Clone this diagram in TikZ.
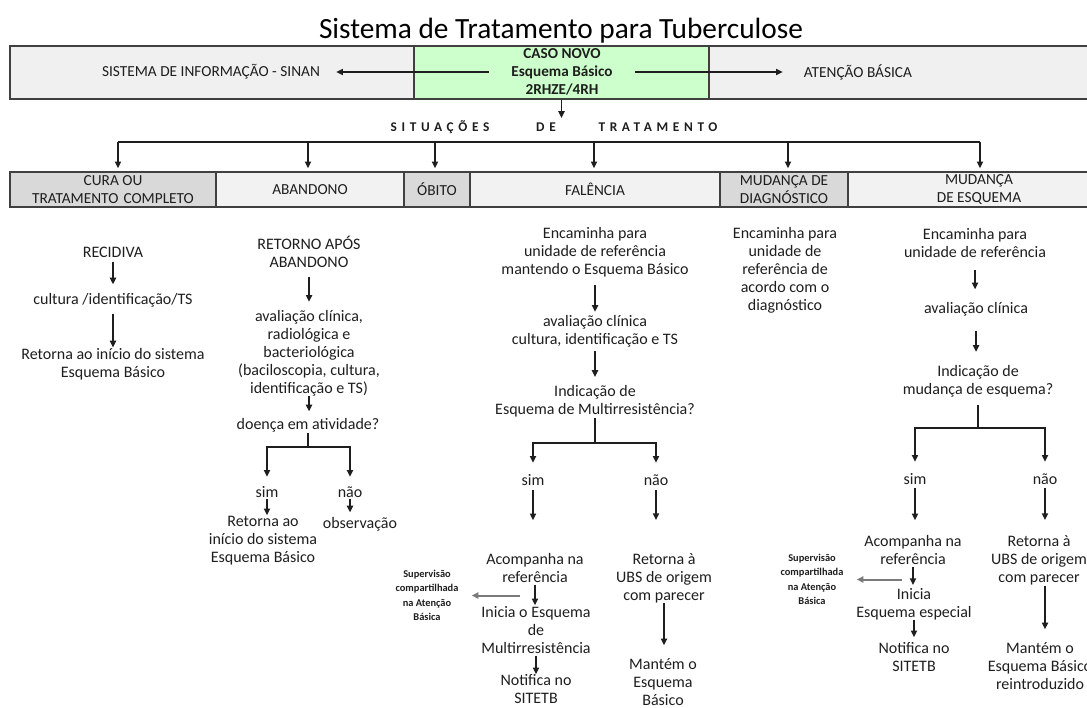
\documentclass[tikz,border=0pt]{standalone}
\usepackage{fontspec}
\setmainfont{Carlito}
\usetikzlibrary{arrows.meta,calc}

\definecolor{ink}{HTML}{1E1E1E}
\definecolor{edge}{HTML}{404040}
\definecolor{bandfill}{HTML}{F0F0F0}
\definecolor{cellA}{HTML}{D9D9D9}
\definecolor{cellB}{HTML}{F2F2F2}
\definecolor{novofill}{HTML}{CCFFCC}
\definecolor{supgray}{HTML}{7A7A7A}

\newcommand\fTitle{\fontsize{22}{26}\selectfont}
\newcommand\fBand{\fontsize{11.5}{13.5}\selectfont}
\newcommand\fNovo{\bfseries\fontsize{11.4}{13.5}\selectfont}
\newcommand\fSit{\bfseries\fontsize{10}{12}\selectfont\addfontfeatures{LetterSpace=35}}
\newcommand\fCell{\fontsize{11.5}{13}\selectfont}
\newcommand\fBody{\fontsize{12}{13.5}\selectfont}
\newcommand\fSup{\bfseries\fontsize{7.8}{10.7}\selectfont}
% line strut: one full line of 13.5pt, sitting a little low in its box
\newcommand\lnstrut{\rule[-1.45pt]{0pt}{13.5pt}}

\begin{document}
\begin{tikzpicture}[x=0.75pt,y=-0.75pt,
  ln/.style={draw=ink, line width=1.1pt},
  arr/.style={ln, -{Triangle[length=5pt,width=4.6pt]}},
  garr/.style={draw=supgray, line width=1.5pt, -{Triangle[length=5pt,width=4.6pt]}},
  ends/.style 2 args={shorten <=#1*0.75pt, shorten >=#2*0.75pt},
  txt/.style={align=center, inner sep=0pt, text=ink, font=\fBody,
    execute at begin node=\lnstrut, execute at end node=\lnstrut},
  sup/.style={align=center, inner sep=0pt, text=ink, font=\fSup},
  bandtext/.style={inner sep=0pt, text=ink, font=\fBand},
  sit/.style={inner sep=0pt, text=ink, font=\fSit},
  cell/.style={draw=edge, line width=1.1pt, inner sep=0pt, minimum height=26.25pt,
    align=center, text=ink, font=\fCell},
  cellgray/.style={cell, fill=cellA},
  celllight/.style={cell, fill=cellB}
]
\useasboundingbox (0,0) rectangle (1087,707);
\clip (0,0) rectangle (1087,707);

% title
\node[inner sep=0pt, text=black, font=\fTitle] (title) at (561,31) {Sistema de Tratamento para Tuberculose};

% top band with the new case in the middle
\node[draw=edge, line width=1.1pt, fill=bandfill, minimum width=817.5pt, minimum height=39.75pt, inner sep=0pt] (band) at (555,72.5) {};
\node[draw=edge, line width=1.1pt, fill=novofill, minimum width=221.25pt, minimum height=39.75pt, inner sep=0pt] (green) at (561.5,72.5) {};
\node[align=center, inner sep=0pt, text=ink, font=\fNovo, minimum width=109.5pt] (caso) at (562,72)
  {CASO NOVO\\Esquema Básico\\2RHZE/4RH};
\node[bandtext] (sinan) at (211,72) {SISTEMA DE INFORMAÇÃO - SINAN};
\node[bandtext] (aten) at (858,72) {ATENÇÃO BÁSICA};
\draw[arr, ends={0}{16}] (caso) -- (sinan);
\draw[arr, ends={0}{21}] (caso) -- (aten);

% treatment situations
\node[sit] (sit1) at (440,127) {SITUAÇÕES};
\node[sit] (sit2) at (546,127) {DE};
\node[sit] (sit3) at (658,127) {TRATAMENTO};
\draw[arr, ends={0}{4.5}] (green) -- (green |- sit2.north);

% situation cells
\node[cellgray]  (cura)  at (113,189.5) [minimum width=154.5pt] {CURA OU\\TRATAMENTO\,\,COMPLETO};
\node[celllight] (aband) at (310,189.5) [minimum width=141pt] {ABANDONO};
\node[cellgray]  (obito) at (437,189.5) [minimum width=49.5pt] {ÓBITO};
\node[celllight] (falen) at (595,189.5) [minimum width=187.5pt] {FALÊNCIA};
\node[cellgray]  (mdiag) at (784,189.5) [minimum width=96pt] {MUDANÇA DE\\DIAGNÓSTICO};
\node[celllight] (mesq)  at (979,189.5) [minimum width=196.5pt] {MUDANÇA\\DE ESQUEMA};

\coordinate (b1) at (118,142);
\coordinate (b2) at (308,142);
\coordinate (b3) at (435,142);
\coordinate (b4) at (594,142);
\coordinate (b5) at (788,142);
\coordinate (b6) at (980,142);
\draw[ln] (b1) -- (b6);
\draw[arr, ends={0}{3}] (b1) -- (b1 |- cura.north);
\draw[arr, ends={0}{3}] (b2) -- (b2 |- aband.north);
\draw[arr, ends={0}{3}] (b3) -- (b3 |- obito.north);
\draw[arr, ends={0}{3}] (b4) -- (b4 |- falen.north);
\draw[arr, ends={0}{3}] (b5) -- (b5 |- mdiag.north);
\draw[arr, ends={0}{3}] (b6) -- (b6 |- mesq.north);

% cure / complete treatment
\node[txt] (recid) at (113,250) {RECIDIVA};
\node[txt] (cult) at (113,298) {cultura /identificação/TS};
\node[txt] (ret1) at (113,364.5) {Retorna ao início do sistema\\Esquema Básico};
\draw[arr, ends={3}{4}] (recid) -- (recid |- cult.north);
\draw[arr, ends={6}{1}] (cult) -- (cult |- ret1.north);

% abandonment
\node[txt] (retab) at (309,253) {RETORNO APÓS\\ABANDONO};
\node[txt] (aval1) at (309,353) {avaliação clínica,\\radiológica e\\bacteriológica\\(baciloscopia, cultura,\\identificação e TS)};
\node[txt] (doenca) at (308,423) {doença em atividade?};
\draw[arr, ends={7}{8}] (retab) -- (retab |- aval1.north);
\draw[arr, ends={0}{2}] (aval1) -- (aval1 |- doenca.north);
\coordinate (f1) at (308,447);
\draw[ln] (doenca) -- (f1);
\node[txt] (sim1) at (267,490) {sim};
\node[txt] (nao1) at (350,490) {não};
\draw[arr, ends={0}{4}] (f1) -| (sim1);
\draw[arr, ends={0}{4}] (f1) -| (nao1);
\node[txt] (ret2) at (263,541) {Retorna ao\\início do sistema\\Esquema Básico};
\node[txt] (obs) at (360,522) {observação};
\draw[arr, ends={0}{1}] (sim1) -- (sim1 |- ret2.north);
\draw[arr, ends={0}{0}] (nao1) -- (nao1 |- obs.north);

% failure
\node[txt] (enc1) at (595,252.5) {Encaminha para\\unidade de referência\\mantendo o Esquema Básico};
\node[txt] (aval2) at (595,331.5) {avaliação clínica\\cultura, identificação e TS};
\node[txt] (ind1) at (595,401.5) {Indicação de\\Esquema de Multirresistência?};
\draw[arr, ends={7.5}{3.5}] (enc1) -- (enc1 |- aval2.north);
\draw[arr, ends={3.5}{8.5}] (aval2) -- (aval2 |- ind1.north);
\coordinate (f2) at (595,443);
\draw[ln] (ind1) -- (f2);
\node[txt] (sim2) at (533,478) {sim};
\node[txt] (nao2) at (656,478) {não};
\draw[arr, ends={0}{6}] (f2) -| (sim2);
\draw[arr, ends={0}{6}] (f2) -| (nao2);
\node[txt] (acomp1) at (535,569) {Acompanha na\\referência};
\node[txt] (retub1) at (664,578) {Retorna à\\UBS de origem\\com parecer};
\draw[arr, ends={3}{33}] (sim2) -- (sim2 |- acomp1.north);
\draw[arr, ends={3}{33}] (nao2) -- (nao2 |- retub1.north);
\node[txt] (inic1) at (536,631) {Inicia o Esquema\\de\\Multirresistência};
\node[txt] (notif1) at (536,690) {Notifica no\\SITETB};
\draw[arr, ends={0}{1}] (acomp1) -- (acomp1 |- inic1.north);
\draw[arr, ends={0}{0}] (inic1) -- (inic1 |- notif1.north);
\node[sup] (sup1) at (427,595.5) {Supervisão\\compartilhada\\na Atenção\\Básica};
\coordinate (g1) at ($(acomp1.south)+(-15,0)$);
\draw[garr, ends={0}{13}] (g1 |- sup1.east) -- (sup1.east);
\node[txt] (mant1) at (663,683) {Mantém o\\Esquema\\Básico};
\draw[arr, ends={0}{13}] (retub1) -- (retub1 |- mant1.north);

% change of diagnosis
\node[txt] (enc2) at (785,270) {Encaminha para\\unidade de\\referência de\\acordo com o\\diagnóstico};

% change of regimen
\node[txt] (enc3) at (975,243.5) {Encaminha para\\unidade de referência};
\node[txt] (aval3) at (976,307) {avaliação clínica};
\node[txt] (ind2) at (978,381.5) {Indicação de\\mudança de esquema?};
\draw[arr, ends={10.5}{8}] (enc3) -- (enc3 |- aval3.north);
\draw[arr, ends={14}{13.5}] (aval3) -- (aval3 |- ind2.north);
\coordinate (f3) at (978,428);
\draw[ln, ends={7.5}{0}] (ind2) -- (f3);
\node[txt] (sim3) at (915,477) {sim};
\node[txt] (nao3) at (1045,477) {não};
\draw[arr, ends={0}{6}] (f3) -| (sim3);
\draw[arr, ends={0}{6}] (f3) -| (nao3);
\node[txt] (acomp2) at (913,551) {Acompanha na\\referência};
\node[txt] (retub2) at (1039,560.5) {Retorna à\\UBS de origem\\com parecer};
\draw[arr, ends={2}{15}] (sim3) -- (sim3 |- acomp2.north);
\draw[arr, ends={2}{15.5}] (nao3) -- (nao3 |- retub2.north);
\node[txt] (inic2) at (914,604) {Inicia\\Esquema especial};
\node[txt] (notif2) at (914,657.5) {Notifica no\\SITETB};
\draw[arr, ends={0}{3}] (acomp2) -- (acomp2 |- inic2.north);
\draw[arr, ends={0}{4.5}] (inic2) -- (inic2 |- notif2.north);
\node[sup] (sup2) at (812,579.5) {Supervisão\\compartilhada\\na Atenção\\Básica};
\coordinate (g2) at ($(acomp2.south)+(-11,0)$);
\draw[garr, ends={0}{13}] (g2 |- sup2.east) -- (sup2.east);
\node[txt] (mant2) at (1040,667) {Mantém o\\Esquema Básico\\reintroduzido};
\draw[arr, ends={0}{13}] (nao3 |- retub2.south) -- (nao3 |- mant2.north);
\end{tikzpicture}
\end{document}
